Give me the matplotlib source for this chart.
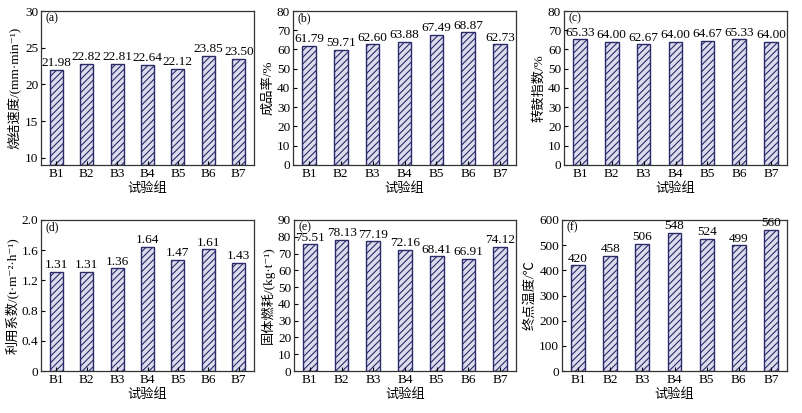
import matplotlib
matplotlib.use("Agg")
import matplotlib.pyplot as plt
from matplotlib import ticker

plt.rcParams['font.family'] = ['Liberation Serif', 'Noto Sans CJK SC', 'DejaVu Sans']
plt.rcParams['hatch.linewidth'] = 0.8
plt.rcParams['hatch.color'] = '#2a2a6a'

groups = ['B1', 'B2', 'B3', 'B4', 'B5', 'B6', 'B7']

speed = [21.98, 22.82, 22.81, 22.64, 22.12, 23.85, 23.50]
yield_rate = [61.79, 59.71, 62.60, 63.88, 67.49, 68.87, 62.73]
drum_index = [65.33, 64.00, 62.67, 64.00, 64.67, 65.33, 64.00]
util_coef = [1.31, 1.31, 1.36, 1.64, 1.47, 1.61, 1.43]
fuel_cons = [75.51, 78.13, 77.19, 72.16, 68.41, 66.91, 74.12]
end_temp = [420, 458, 506, 548, 524, 499, 560]

panels = [
    ('(a)', speed, '烧结速度/(mm·min⁻¹)', (9, 30), 5, '{:.2f}'),
    ('(b)', yield_rate, '成品率/%', (0, 80), 10, '{:.2f}'),
    ('(c)', drum_index, '转鼓指数/%', (0, 80), 10, '{:.2f}'),
    ('(d)', util_coef, '利用系数/(t·m⁻²·h⁻¹)', (0, 2.0), 0.4, '{:.2f}'),
    ('(e)', fuel_cons, '固体燃耗/(kg·t⁻¹)', (0, 90), 10, '{:.2f}'),
    ('(f)', end_temp, '终点温度/℃', (0, 600), 100, '{:.0f}'),
]

W, H = 802, 413
# axes boxes in pixels: left, top, right, bottom
boxes = [
    (41, 11, 254, 165), (293, 11, 516, 165), (564, 11, 787, 165),
    (41, 220, 254, 371), (294, 220, 516, 371), (562, 220, 787, 371),
]

fig = plt.figure(figsize=(W / 100, H / 100), dpi=100)
navy = '#2a2a6a'

for (tag, vals, ylab, ylim, step, fmt), (l, t, r, b) in zip(panels, boxes):
    ax = fig.add_axes([l / W, (H - b) / H, (r - l) / W, (b - t) / H])
    x = range(len(groups))
    bottom = ylim[0]
    ax.bar(x, [v - bottom for v in vals], bottom=bottom, width=0.43,
           color='#dcdcec', edgecolor=navy, hatch='/////', linewidth=1.0)
    for xi, v in zip(x, vals):
        ax.annotate(fmt.format(v), (xi, v), xytext=(0, 0.5), textcoords='offset points',
                    ha='center', va='bottom', fontsize=9.5)
    ax.set_xlim(-0.5, 6.5)
    ax.set_ylim(*ylim)
    ax.yaxis.set_major_locator(ticker.MultipleLocator(step))
    if step < 1:
        ax.yaxis.set_major_formatter(ticker.FuncFormatter(
            lambda v, p: '0' if abs(v) < 1e-9 else f'{v:.1f}'))
    ax.set_xticks(list(x))
    ax.set_xticklabels(groups)
    ax.tick_params(direction='in', labelsize=9.5, length=3, width=0.8, pad=2)
    ax.set_xlabel('试验组', fontsize=9.5, labelpad=2)
    ax.set_ylabel(ylab, fontsize=9.5, labelpad=2)
    ax.annotate(tag, (0, 1), xycoords='axes fraction', xytext=(3, -1),
                textcoords='offset points', ha='left', va='top', fontsize=8.5)
    for s in ax.spines.values():
        s.set_linewidth(0.9)
        s.set_color('#333333')

fig.savefig('out.png', dpi=100)
